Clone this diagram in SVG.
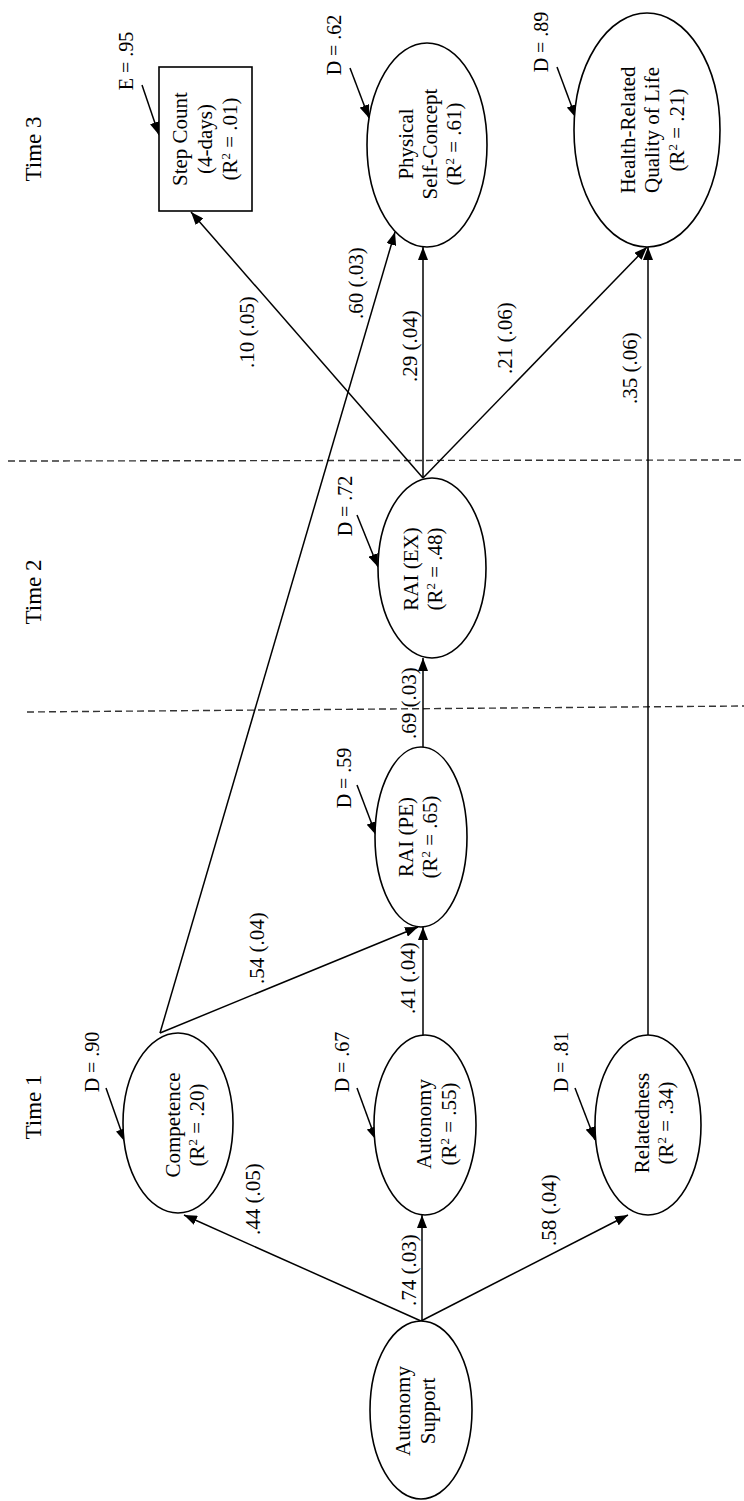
<svg xmlns="http://www.w3.org/2000/svg" width="744" height="1501" viewBox="0 0 744 1501">
<style>
text{font-family:"Liberation Serif","Times New Roman",serif;fill:#000;text-anchor:middle}
.n{font-size:21px}
.e{font-size:21px}
.d{font-size:20px}
.t{font-size:23px}
.sup{font-size:13px}
ellipse,rect{fill:#fff;stroke:#000;stroke-width:1.6}
.c line{stroke:#000;stroke-width:1.5;marker-end:url(#ah)}
.dash{stroke:#333;stroke-width:1.4;stroke-dasharray:7 4}
</style>
<defs>
<marker id="ah" markerUnits="userSpaceOnUse" markerWidth="13" markerHeight="10" refX="13" refY="5" orient="auto">
<path d="M0,0 L13,5 L0,10 z" fill="#000"/>
</marker>
</defs>
<rect width="744" height="1501" style="fill:#fff;stroke:none"/>

<g id="time-lines">
<line class="dash" x1="8" y1="461" x2="744" y2="460"/>
<line class="dash" x1="27" y1="712" x2="744" y2="706"/>
<text class="t" transform="translate(41,149) rotate(-90)">Time 3</text>
<text class="t" transform="translate(41,592) rotate(-90)">Time 2</text>
<text class="t" transform="translate(41,1107) rotate(-90)">Time 1</text>
</g>

<g id="connectors" class="c">
<line x1="421" y1="1321" x2="184" y2="1215"/>
<line x1="422" y1="1321" x2="422" y2="1215"/>
<line x1="421" y1="1321" x2="628" y2="1215"/>
<line x1="160" y1="1033" x2="418" y2="927"/>
<line x1="160" y1="1033" x2="395" y2="232"/>
<line x1="423" y1="1035" x2="423" y2="927"/>
<line x1="423" y1="747" x2="423" y2="658"/>
<line x1="423" y1="478" x2="191" y2="212"/>
<line x1="423" y1="478" x2="423" y2="247"/>
<line x1="423" y1="478" x2="647" y2="247"/>
<line x1="648" y1="1035" x2="648" y2="247"/>
<line x1="106" y1="1088" x2="125" y2="1142"/>
<line x1="357" y1="1088" x2="376" y2="1140"/>
<line x1="575" y1="1088" x2="595" y2="1140"/>
<line x1="357" y1="785" x2="376" y2="835"/>
<line x1="357" y1="515" x2="378" y2="567"/>
<line x1="350" y1="68" x2="369" y2="118"/>
<line x1="557" y1="67" x2="576" y2="118"/>
<line x1="142" y1="85" x2="159" y2="135"/>
</g>

<g id="edge-labels">
<text class="e" transform="translate(260,1199) rotate(-90)">.44 (.05)</text>
<text class="e" transform="translate(416,1270) rotate(-90)">.74 (.03)</text>
<text class="e" transform="translate(556,1210) rotate(-90)">.58 (.04)</text>
<text class="e" transform="translate(264,948) rotate(-90)">.54 (.04)</text>
<text class="e" transform="translate(415,978) rotate(-90)">.41 (.04)</text>
<text class="e" transform="translate(416,703) rotate(-90)">.69 (.03)</text>
<text class="e" transform="translate(363,283) rotate(-90)">.60 (.03)</text>
<text class="e" transform="translate(254,332) rotate(-90)">.10 (.05)</text>
<text class="e" transform="translate(417,346) rotate(-90)">.29 (.04)</text>
<text class="e" transform="translate(512,338) rotate(-90)">.21 (.06)</text>
<text class="e" transform="translate(637,368) rotate(-90)">.35 (.06)</text>
</g>

<g id="autonomy-support">
<ellipse cx="421" cy="1410" rx="51" ry="89"/>
<text class="n" transform="translate(410,1411) rotate(-90)"><tspan x="0" y="0">Autonomy</tspan><tspan x="0" y="25">Support</tspan></text>
</g>

<g id="competence">
<ellipse cx="178" cy="1123" rx="55" ry="90"/>
<text class="n" transform="translate(180,1125) rotate(-90)"><tspan x="0" y="0">Competence</tspan><tspan x="0" y="24">(R<tspan class="sup" baseline-shift="super">2</tspan> = .20)</tspan></text>
<text class="d" transform="translate(99,1062) rotate(-90)">D = .90</text>
</g>

<g id="autonomy">
<ellipse cx="425" cy="1125" rx="51" ry="90"/>
<text class="n" transform="translate(431,1124) rotate(-90)"><tspan x="0" y="0">Autonomy</tspan><tspan x="0" y="25">(R<tspan class="sup" baseline-shift="super">2</tspan> = .55)</tspan></text>
<text class="d" transform="translate(349,1062) rotate(-90)">D = .67</text>
</g>

<g id="relatedness">
<ellipse cx="648" cy="1125" rx="53" ry="90"/>
<text class="n" transform="translate(649,1123) rotate(-90)"><tspan x="0" y="0">Relatedness</tspan><tspan x="0" y="24">(R<tspan class="sup" baseline-shift="super">2</tspan> = .34)</tspan></text>
<text class="d" transform="translate(568,1062) rotate(-90)">D = .81</text>
</g>

<g id="rai-pe">
<ellipse cx="421" cy="837" rx="46" ry="90"/>
<text class="n" transform="translate(413,837) rotate(-90)"><tspan x="0" y="0">RAI (PE)</tspan><tspan x="0" y="24">(R<tspan class="sup" baseline-shift="super">2</tspan> = .65)</tspan></text>
<text class="d" transform="translate(351,778) rotate(-90)">D = .59</text>
</g>

<g id="rai-ex">
<ellipse cx="432" cy="568" rx="54" ry="90"/>
<text class="n" transform="translate(418,569) rotate(-90)"><tspan x="0" y="0">RAI (EX)</tspan><tspan x="0" y="24">(R<tspan class="sup" baseline-shift="super">2</tspan> = .48)</tspan></text>
<text class="d" transform="translate(352,506) rotate(-90)">D = .72</text>
</g>

<g id="physical-self-concept">
<ellipse cx="427" cy="145" rx="60" ry="102"/>
<text class="n" transform="translate(413,144) rotate(-90)"><tspan x="0" y="0">Physical</tspan><tspan x="0" y="24">Self-Concept</tspan><tspan x="0" y="48">(R<tspan class="sup" baseline-shift="super">2</tspan> = .61)</tspan></text>
<text class="d" transform="translate(341,45) rotate(-90)">D = .62</text>
</g>

<g id="health-related-quality-of-life">
<ellipse cx="647" cy="130" rx="73" ry="117"/>
<text class="n" transform="translate(635,130) rotate(-90)"><tspan x="0" y="0">Health-Related</tspan><tspan x="0" y="24">Quality of Life</tspan><tspan x="0" y="49">(R<tspan class="sup" baseline-shift="super">2</tspan> = .21)</tspan></text>
<text class="d" transform="translate(548,42) rotate(-90)">D = .89</text>
</g>

<g id="step-count">
<rect x="159" y="67" width="93" height="144"/>
<text class="n" transform="translate(187,139) rotate(-90)"><tspan x="0" y="0">Step Count</tspan><tspan x="0" y="25">(4-days)</tspan><tspan x="0" y="50">(R<tspan class="sup" baseline-shift="super">2</tspan> = .01)</tspan></text>
<text class="d" transform="translate(133,61) rotate(-90)">E = .95</text>
</g>
</svg>
